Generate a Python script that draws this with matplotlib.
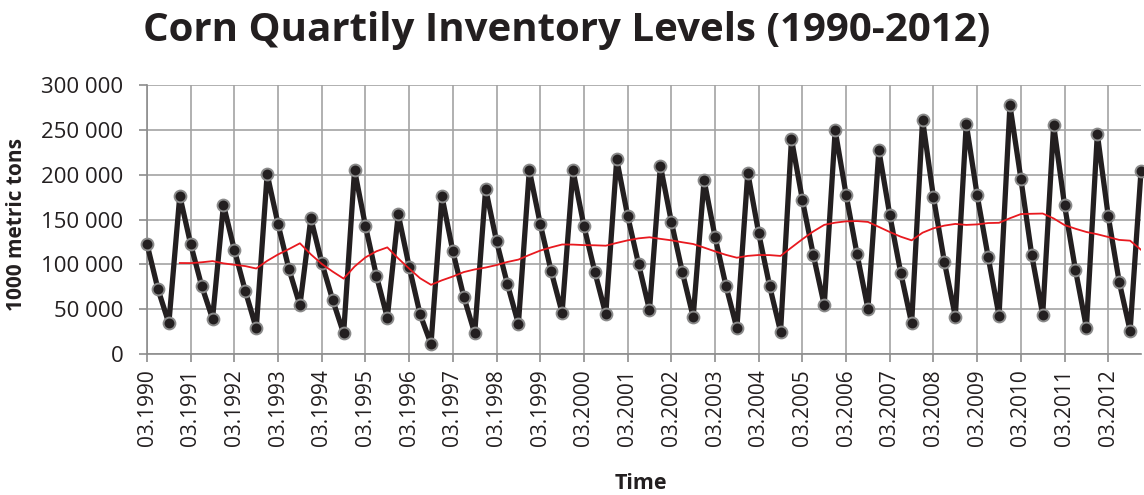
import numpy as np
import pandas as pd
import matplotlib
matplotlib.use("Agg")
import matplotlib.pyplot as plt

# quarterly inventory, 03.1990 .. 12.2012 (1000 metric tons)
inventory = [
    122700, 72500, 34200, 176500,
    122300, 76200, 39400, 166500,
    116000, 70300, 28600, 200700,
    144600, 94400, 54300, 151300,
    101800, 60200, 23000, 205200,
    142700, 87300, 40500, 155800,
    97400, 44300, 11200, 175900,
    114500, 63900, 23000, 184400,
    125600, 77700, 33500, 205200,
    145000, 92200, 46100, 204800,
    142700, 91400, 44300, 217100,
    154200, 100400, 49100, 210000,
    147600, 91800, 41300, 194000,
    130800, 76200, 28600, 202200,
    134600, 75800, 24900, 239800,
    171700, 110400, 54300, 249500,
    177700, 111500, 50500, 227200,
    155000, 90700, 34200, 261300,
    174700, 102600, 41700, 256900,
    177000, 108600, 42800, 277300,
    195500, 110000, 43900, 255400,
    165800, 93700, 29400, 245300,
    153600, 80700, 26000, 204500,
]
years = list(range(1990, 2013))
quarter_months = ["03", "06", "09", "12"]
periods = [f"{m}.{y}" for y in years for m in quarter_months]

# 4-period moving average trendline (as in the spreadsheet chart)
trend = pd.Series(inventory).rolling(4).mean()

dark = "#231f20"
grid_col = "#a3a3a3"

plt.rcParams["font.family"] = ["Open Sans", "DejaVu Sans"]

fig = plt.figure(figsize=(11.44, 4.95), dpi=100)
ax = fig.add_axes([0.1285, 0.2848, 0.8689, 0.5435])

x = np.arange(len(inventory))
ax.plot(x, inventory, color=dark, lw=3.8, marker="o", ms=8.5,
        mfc=dark, mec="#8a8a8a", mew=1.4, zorder=3, clip_on=False)
ax.plot(x, trend, color="#e8191f", lw=1.3, zorder=4)

ax.set_xlim(0, len(inventory) - 1)
ax.set_ylim(0, 300000)
ax.set_yticks(np.arange(0, 300001, 50000))
ax.set_yticklabels([f"{v:,}".replace(",", " ") for v in range(0, 300001, 50000)])
tick_pos = x[::4]
ax.set_xticks(tick_pos)
ax.set_xticklabels([periods[i] for i in tick_pos], rotation=90)

ax.grid(True, color=grid_col, lw=1.2)
ax.set_axisbelow(True)
for side in ["top", "right"]:
    ax.spines[side].set_visible(False)
for side in ["left", "bottom"]:
    ax.spines[side].set_color("#8c8c8c")
    ax.spines[side].set_linewidth(1.2)
ax.tick_params(axis="both", colors="#8c8c8c", length=6, width=1.2,
               labelcolor=dark)
ax.tick_params(axis="y", labelsize=16, pad=11)
ax.tick_params(axis="x", labelsize=15, pad=5)

ax.set_ylabel("1000 metric tons", fontsize=15, fontweight="bold", color=dark)
ax.yaxis.set_label_coords(-0.121, 0.48)
ax.set_xlabel("Time", fontsize=15.5, fontweight="bold", color=dark)
ax.xaxis.set_label_coords(0.497, -0.442)
fig.suptitle("Corn Quartily Inventory Levels (1990-2012)", x=0.495, y=0.978,
             fontsize=29, fontweight="bold", color=dark)

fig.savefig("out.png", dpi=100)
